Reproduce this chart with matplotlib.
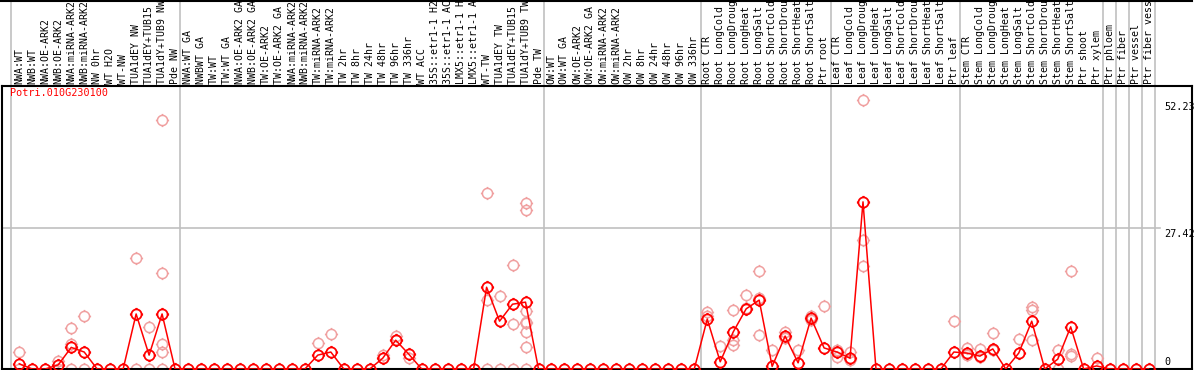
"""Expression profile of Potri.010G230100 across samples"""

import matplotlib
matplotlib.use("Agg")
import matplotlib.pyplot as plt
from matplotlib.path import Path
from matplotlib.lines import Line2D
import matplotlib.transforms as mtransforms
import numpy as np

gene = "Potri.010G230100"

samples = [
    "NWA:WT", "NWB:WT", "NWA:OE-ARK2", "NWB:OE-ARK2", "NWA:miRNA-ARK2",
    "NWB:miRNA-ARK2", "NW 0hr", "WT H2O", "WT-NW", "TUA1dEY NW",
    "TUA1dEY+TUB15 NW", "TUA1dY+TUB9 NW", "Pde NW",
    "NWA:WT GA", "NWBWT GA", "TW:WT", "TW:WT GA", "NWA:OE-ARK2 GA",
    "NWB:OE-ARK2 GA", "TW:OE-ARK2", "TW:OE-ARK2 GA", "NWA:miRNA-ARK2",
    "NWB:miRNA-ARK2", "TW:miRNA-ARK2", "TW:miRNA-ARK2", "TW 2hr", "TW 8hr",
    "TW 24hr", "TW 48hr", "TW 96hr", "TW 336hr", "WT ACC",
    "35S::etr1-1 H2O", "35S::etr1-1 ACC", "LMX5::etr1-1 H2O",
    "LMX5::etr1-1 ACC", "WT-TW", "TUA1dEY TW", "TUA1dEY+TUB15 TW",
    "TUA1dY+TUB9 TW", "Pde TW",
    "OW:WT", "OW:WT GA", "OW:OE-ARK2", "OW:OE-ARK2 GA", "OW:miRNA-ARK2",
    "OW:miRNA-ARK2", "OW 2hr", "OW 8hr", "OW 24hr", "OW 48hr", "OW 96hr",
    "OW 336hr",
    "Root CTR", "Root LongCold", "Root LongDrought", "Root LongHeat",
    "Root LongSalt", "Root ShortCold", "Root ShortDrought", "Root ShortHeat",
    "Root ShortSalt", "Ptr root",
    "Leaf CTR", "Leaf LongCold", "Leaf LongDrought", "Leaf LongHeat",
    "Leaf LongSalt", "Leaf ShortCold", "Leaf ShortDrought", "Leaf ShortHeat",
    "Leaf ShortSalt", "Ptr leaf",
    "Stem CTR", "Stem LongCold", "Stem LongDrought", "Stem LongHeat",
    "Stem LongSalt", "Stem ShortCold", "Stem ShortDrought", "Stem ShortHeat",
    "Stem ShortSalt", "Ptr shoot",
    "Ptr xylem", "Ptr phloem", "Ptr fiber", "Ptr vessel", "Ptr fiber vessel",
]

mean_expr = [
    1.0, 0, 0, 0.8, 4.2, 3.3, 0, 0, 0, 10.7, 2.7, 10.7, 0,
    0, 0, 0, 0, 0, 0, 0, 0, 0, 0, 2.7, 3.3, 0, 0, 0, 2.1, 5.6, 2.9,
    0, 0, 0, 0, 0, 15.9, 9.3, 12.6, 13.0, 0,
    0, 0, 0, 0, 0, 0, 0, 0, 0, 0, 0, 0,
    9.7, 1.4, 7.2, 11.7, 13.4, 0.5, 6.4, 1.2, 9.9, 4.1,
    3.3, 2.1, 32.5, 0, 0, 0, 0, 0, 0, 3.3,
    3.1, 2.5, 3.9, 0, 3.1, 9.3, 0, 1.9, 8.2, 0,
    0.6, 0, 0, 0, 0,
]

# individual replicates: sample index, value
rep_idx = [0, 0, 3, 3, 4, 4, 4, 5, 5, 9, 9, 10, 10, 11, 11, 11, 11, 11,
           23, 24, 28, 29, 29, 30,
           36, 36, 36, 37, 37, 38, 38, 38, 39, 39, 39, 39, 39, 39, 39, 39,
           53, 53, 54, 55, 55, 55, 56, 56, 57, 57, 57, 58, 59, 59, 60, 61, 61, 62,
           63, 63, 64, 64, 65, 65, 65, 72,
           73, 73, 74, 74, 75, 75, 77, 78, 78, 78, 80, 80, 81, 81, 81, 83]
rep_val = [3.3, 0, 1.6, 0, 8.0, 4.9, 0, 10.3, 0, 21.6, 0, 8.2, 0, 48.4, 18.7, 4.9, 3.4, 0,
           5.0, 6.8, 2.7, 6.4, 5.6, 2.2,
           34.2, 13.4, 0, 14.1, 0, 20.2, 8.7, 0, 32.3, 30.9, 11.3, 9.2, 8.9, 7.1, 4.2, 0,
           11.1, 10.4, 4.5, 11.5, 5.6, 4.7, 11.9, 14.4, 19.1, 13.8, 6.6, 3.7, 7.2, 6.0, 3.7, 10.3, 9.5, 12.2,
           3.7, 2.3, 3.3, 1.7, 52.23, 25.1, 20.0, 9.3,
           4.1, 2.7, 3.9, 2.3, 7.0, 3.7, 5.8, 12.1, 11.5, 5.6, 3.7, 0, 19.1, 2.9, 2.6, 2.1]

separators = [-0.65, 12.4, 40.4, 52.5, 62.5, 72.5, 83.5, 84.5, 85.5, 86.5, 87.5]
ref_value = 27.42
max_value = 52.23

# circle with four little ticks, like the original marker
ang = np.linspace(0, 2 * np.pi, 41)
verts = list(zip(np.cos(ang), np.sin(ang)))
codes = [Path.MOVETO] + [Path.LINETO] * (len(ang) - 1)
for a, b in [((0, 1), (0, 1.3)), ((0, -1), (0, -1.3)),
             ((1, 0), (1.3, 0)), ((-1, 0), (-1.3, 0))]:
    verts += [a, b]
    codes += [Path.MOVETO, Path.LINETO]
ring = Path(verts, codes)

W, H = 1194, 370
fig = plt.figure(figsize=(W / 100, H / 100), dpi=100)
top_px, bot_px, left_px, right_px = 86, 369, 2, 1192
ax = fig.add_axes([left_px / W, (H - bot_px) / H, (right_px - left_px) / W,
                   (bot_px - top_px) / H])

x = list(range(len(samples)))
x0, dx = 19.3, 12.98
ax.set_xlim((left_px - x0) / dx, (right_px - x0) / dx)
ax.set_ylim(0, (bot_px - top_px) / 5.143)

mono = "DejaVu Sans Mono"
ext = 1 + top_px / (bot_px - top_px)

for s in separators:
    ax.axvline(s, ymin=0, ymax=ext, color="#c0c0c0", lw=1.2, clip_on=False, zorder=0)
ax.plot([ax.get_xlim()[0], 87.9], [ref_value, ref_value], color="#c0c0c0", lw=1.2, zorder=0)

ax.plot(rep_idx, rep_val, ls="none", marker=ring, ms=9.5, mfc="none", mec="#f0a0a0",
        mew=1.1, zorder=2)
ax.plot(x, mean_expr, color="red", lw=1.1, marker=ring, ms=9.5, mfc="none", mec="red",
        mew=1.3, zorder=3)

# the label strip only has room for 14 characters
trans = mtransforms.blended_transform_factory(ax.transData, ax.transAxes)
for i, name in enumerate(samples):
    ax.text(i, 1 + 2 / (bot_px - top_px), name[:14], transform=trans, rotation=90,
            ha="center", va="bottom", fontsize=7.1, family=mono, clip_on=False)

ax.text(-0.7, 0.975, gene, transform=trans, color="red", fontsize=7.3, family=mono,
        ha="left", va="center")

lx = (1164 - x0) / dx
ax.text(lx, max_value - 0.3, f"{max_value:.2f}", fontsize=7.3, family=mono, va="top", ha="left")
ax.text(lx, ref_value - 0.2, f"{ref_value:.2f}", fontsize=7.3, family=mono, va="top", ha="left")
ax.text(lx, 0.4, "0", fontsize=7.3, family=mono, va="bottom", ha="left")

ax.set_xticks([])
ax.set_yticks([])
for sp in ax.spines.values():
    sp.set_color("black")
    sp.set_linewidth(1.5)

fig.add_artist(Line2D([0, right_px / W], [1 - 0.5 / H, 1 - 0.5 / H], color="black", lw=1.5))

fig.savefig("out.png", dpi=100)
